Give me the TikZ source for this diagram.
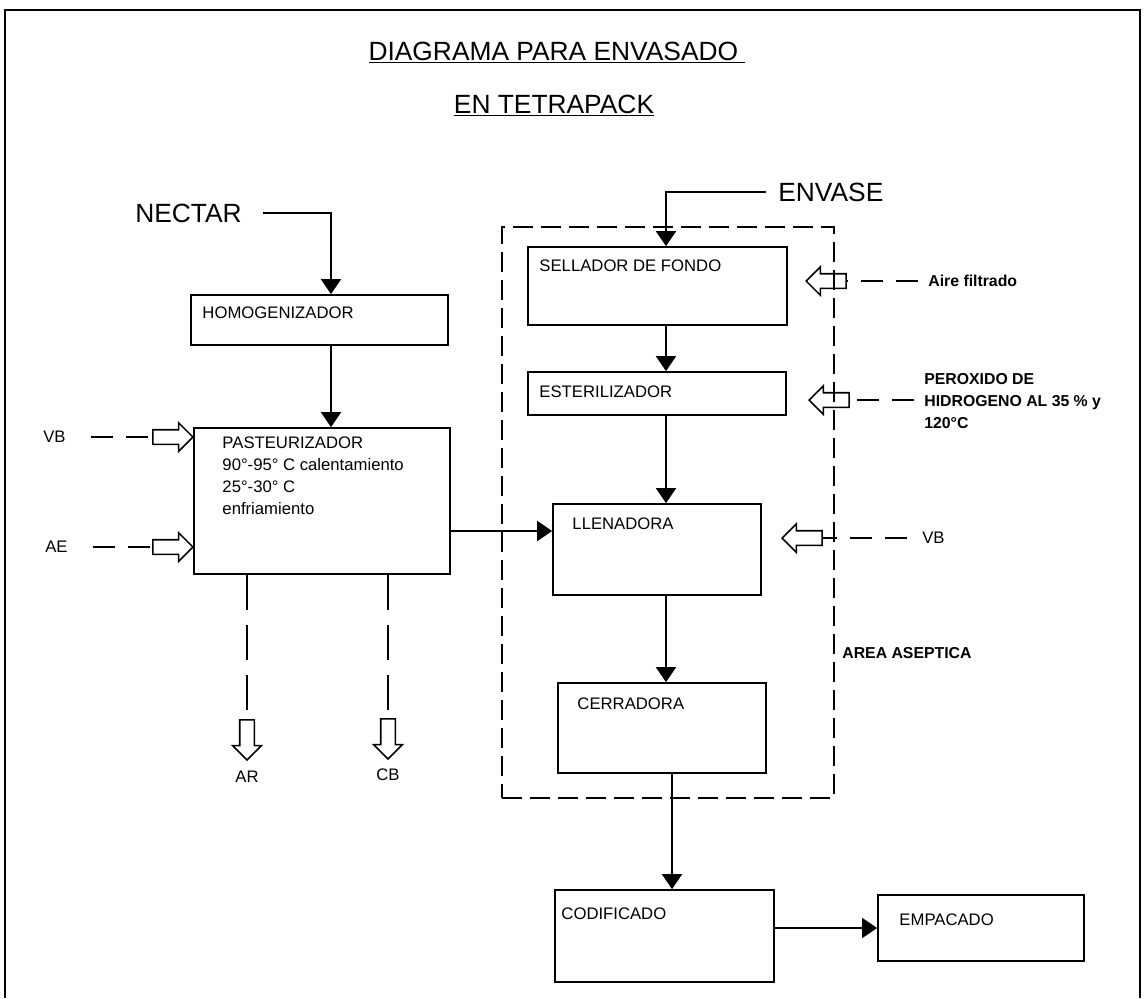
\documentclass[tikz,border=0pt]{standalone}
\usepackage{fontspec}
\setmainfont{Liberation Sans}
\usetikzlibrary{arrows.meta, positioning, shapes.arrows}

\begin{document}
\begin{tikzpicture}[x=0.2mm, y=-0.2mm,
    box/.style={draw, line width=1pt, inner sep=0pt},
    boxtext/.style={anchor=north west, inner sep=0pt, align=left, font=\fontsize{9.5}{12.5}\selectfont},
    flow/.style={line width=1pt, -{Triangle[width=4mm, length=3mm]}},
    feed/.style={line width=0.9pt, dash pattern=on 4.4mm off 2.6mm},
    drain/.style={line width=0.9pt, dash pattern=on 7mm off 3mm},
    harrow/.style={single arrow, draw, line width=0.9pt, inner sep=1.3mm, minimum height=8mm,
                   minimum width=5.4mm, single arrow head extend=1.4mm},
    tag/.style={inner sep=0pt, font=\fontsize{9.5}{12}\selectfont},
    side/.style={inner sep=0pt, align=left, font=\bfseries\fontsize{9}{12.5}\selectfont},
    head/.style={inner sep=0pt, font=\fontsize{15}{18}\selectfont},
  ]
  \useasboundingbox (0,0) rectangle (1146,998);
  \draw[line width=0.9pt] (5,998) -- (5,10) -- (1140,10) -- (1140,998);

  % title
  \node[head, anchor=base] (tit1) at (557,60) {\underline{DIAGRAMA PARA ENVASADO\ }};
  \node[head, anchor=base] (tit2) at (554,113) {\underline{EN TETRAPACK}};

  % aseptic area
  \node[box, dash pattern=on 4mm off 1.6mm, minimum width=66.4mm, minimum height=114.2mm] (asept) at (668,512.5) {};
  \node[side, anchor=west] (area) at (842,653) {AREA ASEPTICA};

  % process boxes
  \node[box, minimum width=51.4mm, minimum height=10mm,
        label={[boxtext, xshift=2.4mm, yshift=-2.4mm]north west:HOMOGENIZADOR}] (homog) at (319.5,320) {};
  \node[box, minimum width=51.2mm, minimum height=29.2mm,
        label={[boxtext, xshift=5.8mm, yshift=-1.8mm]north west:{PASTEURIZADOR\\90°-95° C calentamiento\\25°-30° C\\enfriamiento}}] (pas) at (322,501) {};
  \node[box, minimum width=51.8mm, minimum height=15.6mm,
        label={[boxtext, xshift=2.4mm, yshift=-2.6mm]north west:SELLADOR DE FONDO}] (sell) at (657.5,286) {};
  \node[box, minimum width=51.6mm, minimum height=8.6mm,
        label={[boxtext, xshift=2.4mm, yshift=-2.8mm]north west:ESTERILIZADOR}] (ester) at (657,393.5) {};
  \node[box, minimum width=41.6mm, minimum height=18.2mm,
        label={[boxtext, xshift=4mm, yshift=-2.8mm]north west:LLENADORA}] (llen) at (657,549.5) {};
  \node[box, minimum width=41.6mm, minimum height=18mm,
        label={[boxtext, xshift=4mm, yshift=-3mm]north west:CERRADORA}] (cerr) at (662,728) {};
  \node[box, minimum width=43.8mm, minimum height=18.4mm,
        label={[boxtext, xshift=1.4mm, yshift=-3.6mm]north west:CODIFICADO}] (codif) at (664.5,936) {};
  \node[box, minimum width=41.2mm, minimum height=13.2mm,
        label={[boxtext, xshift=4.4mm, yshift=-3.8mm]north west:EMPACADO}] (empac) at (981,928) {};

  % main flow
  \coordinate (nk) at (331,213);
  \coordinate (ek) at (666,192);
  \coordinate (ck) at (672,0);
  \coordinate (lk) at (553,531);
  \node[head, anchor=west] (nectar) at (135,213) {NECTAR};
  \node[head, anchor=west] (envase) at (778,192) {ENVASE};
  \draw[flow, shorten <=4.2mm] (nectar.east) -- (nk) -- (homog.north -| nk);
  \draw[flow] (homog.south -| nk) -- (pas.north -| nk);
  \draw[flow, shorten <=2.4mm] (envase.west) -- (ek) -- (sell.north -| ek);
  \draw[flow] (sell.south -| ek) -- (ester.north -| ek);
  \draw[flow] (ester.south -| ek) -- (llen.north -| ek);
  \draw[flow] (llen.south -| ek) -- (cerr.north -| ek);
  \draw[flow] (cerr.south -| ck) -- (codif.north -| ck);
  \draw[flow] (pas.east |- lk) -- (llen.west |- lk);
  \draw[flow] (codif.east |- empac.west) -- (empac.west);

  % services into the pasteurizer
  \node[tag, anchor=west] (vbl) at (43,437) {VB};
  \node[tag, anchor=west] (ael) at (45,547) {AE};
  \node[harrow, anchor=tip] (vbin) at (194,437) {};
  \node[harrow, anchor=tip] (aein) at (194,547) {};
  \draw[feed, shorten <=5mm] (vbl.east) -- (vbin.tail);
  \draw[feed, shorten <=5mm] (ael.east) -- (aein.tail);

  % outputs of the pasteurizer
  \node[harrow, shape border rotate=270, anchor=tip] (arout) at (247,761) {};
  \node[harrow, shape border rotate=270, anchor=tip] (cbout) at (388,760) {};
  \draw[drain] (pas.south -| arout.tail) -- (arout.tail);
  \draw[drain] (pas.south -| cbout.tail) -- (cbout.tail);
  \node[tag, below=2mm of arout.tip] (ar) {AR};
  \node[tag, below=1.6mm of cbout.tip] (cb) {CB};

  % services into the aseptic area
  \node[harrow, shape border rotate=180, anchor=tip] (airin) at (805,281) {};
  \node[harrow, shape border rotate=180, anchor=tip] (perin) at (808,400) {};
  \node[harrow, shape border rotate=180, anchor=tip] (vbrin) at (781,538) {};
  \node[side, anchor=west] (aire) at (928,281) {Aire filtrado};
  \node[side, anchor=west] (perox) at (924,401) {PEROXIDO DE\\HIDROGENO AL 35 \% y\\120°C};
  \node[tag, anchor=west] (vbr) at (922,538) {VB};
  \draw[feed, shorten <=2mm] (aire.west) -- (airin.tail);
  \draw[feed, shorten <=2mm] (perox.west |- perin.tail) -- (perin.tail);
  \draw[feed, shorten <=3mm] (vbr.west) -- (vbrin.tail);
\end{tikzpicture}
\end{document}
